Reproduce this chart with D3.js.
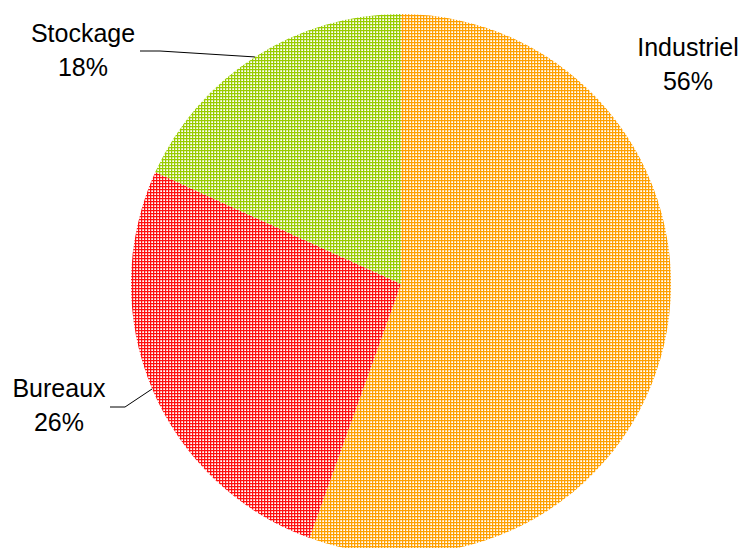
<!DOCTYPE html>
<html>
<head>
<meta charset="utf-8">
<script src="https://cdn.jsdelivr.net/npm/d3@7"></script>
<style>
  html, body { margin: 0; padding: 0; background: #fff; }
  svg { display: block; }
  text { font-family: "Liberation Sans", Arial, sans-serif; fill: #000; }
</style>
</head>
<body>
<script>
// ---- data ----
const categories = ["Industriel", "Bureaux", "Stockage"];
const values = [55.5, 26.3, 18.2];
const percentLabels = ["56%", "26%", "18%"];
const colors = ["#FFA000", "#FF1010", "#99CC00"];

// ---- layout ----
const W = 745, H = 548;
const cx = 401, cy = 284, R = 270;
const fontSize = 25, lineGap = 34;
// label anchor (center x, first baseline y) and leader-line elbow
const labelLayout = [
  { x: 688, y: 56, leader: null },
  { x: 59, y: 397, leader: { x0: 110, y0: 407, x1: 125, y1: 407 } },
  { x: 83, y: 42, leader: { x0: 140, y0: 51, x1: 160, y1: 51 } }
];

const svg = d3.select("body").append("svg")
  .attr("width", W).attr("height", H);

// cross-hatch patterns (page-aligned)
const defs = svg.append("defs");
colors.forEach((c, i) => {
  const p = defs.append("pattern")
    .attr("id", "pat" + i)
    .attr("patternUnits", "userSpaceOnUse")
    .attr("patternTransform", `translate(${-cx},${-cy})`)
    .attr("x", 0).attr("y", 0)
    .attr("width", 3).attr("height", 3);
  p.append("rect").attr("width", 3).attr("height", 3).attr("fill", "#fff");
  p.append("rect").attr("x", 0).attr("y", 0).attr("width", 3).attr("height", 1.25).attr("fill", c);
  p.append("rect").attr("x", 0).attr("y", 0).attr("width", 1.25).attr("height", 3).attr("fill", c);
});

const pie = d3.pie().sort(null).value(d => d)
  .startAngle(0).endAngle(2 * Math.PI);
const arcs = pie(values);
const arc = d3.arc().innerRadius(0).outerRadius(R);
const edgeArc = d3.arc().innerRadius(R).outerRadius(R);

const g = svg.append("g").attr("transform", `translate(${cx},${cy})`);
g.selectAll("path.slice").data(arcs).enter().append("path")
  .attr("class", "slice")
  .attr("d", arc)
  .attr("fill", (d, i) => `url(#pat${i})`);

// leader lines
arcs.forEach((d, i) => {
  const L = labelLayout[i].leader;
  if (!L) return;
  const c = edgeArc.centroid(d);
  const ex = cx + c[0], ey = cy + c[1];
  svg.append("polyline")
    .attr("points", `${L.x0},${L.y0} ${L.x1},${L.y1} ${ex},${ey}`)
    .attr("fill", "none")
    .attr("stroke", "#000")
    .attr("stroke-width", 1);
});

// labels
categories.forEach((name, i) => {
  const p = labelLayout[i];
  const t = svg.append("text")
    .attr("text-anchor", "middle")
    .attr("font-size", fontSize);
  t.append("tspan").attr("x", p.x).attr("y", p.y).text(name);
  t.append("tspan").attr("x", p.x).attr("y", p.y + lineGap).text(percentLabels[i]);
});
</script>
</body>
</html>
